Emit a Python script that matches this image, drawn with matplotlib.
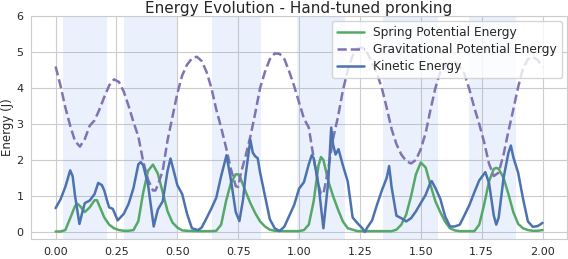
import numpy as np
import matplotlib
matplotlib.use('Agg')
import matplotlib.pyplot as plt
import seaborn as sns

# 数据：能量曲线（单位 J）
t_spring = [0.00, 0.02, 0.04, 0.06, 0.08, 0.09, 0.10, 0.12, 0.14, 0.16, 0.17, 0.18, 0.20, 0.22, 0.24, 0.26,
            0.28, 0.30, 0.32, 0.34, 0.36, 0.38, 0.40, 0.42, 0.44, 0.46, 0.48, 0.50, 0.52, 0.54, 0.58, 0.62,
            0.64, 0.66, 0.68, 0.70, 0.72, 0.74, 0.75, 0.76, 0.78, 0.80, 0.82, 0.84, 0.86, 0.88, 0.90, 0.94,
            0.98, 1.00, 1.02, 1.04, 1.06, 1.08, 1.09, 1.10, 1.12, 1.14, 1.16, 1.18, 1.20, 1.22, 1.24, 1.30,
            1.36, 1.38, 1.40, 1.42, 1.44, 1.46, 1.48, 1.50, 1.52, 1.54, 1.56, 1.58, 1.60, 1.62, 1.64, 1.66,
            1.70, 1.72, 1.74, 1.76, 1.78, 1.80, 1.81, 1.82, 1.84, 1.86, 1.88, 1.90, 1.92, 1.94, 1.96, 1.98, 2.00]
spring = [0.01, 0.01, 0.05, 0.38, 0.72, 0.78, 0.72, 0.55, 0.68, 0.88, 0.88, 0.72, 0.40, 0.20, 0.10, 0.05,
          0.03, 0.03, 0.05, 0.30, 1.10, 1.70, 1.87, 1.62, 1.10, 0.57, 0.26, 0.12, 0.04, 0.03, 0.02, 0.02,
          0.02, 0.03, 0.20, 0.85, 1.36, 1.60, 1.60, 1.48, 1.13, 0.80, 0.52, 0.29, 0.15, 0.06, 0.03, 0.02,
          0.02, 0.02, 0.05, 0.20, 0.85, 1.85, 2.08, 2.00, 1.41, 0.99, 0.62, 0.29, 0.10, 0.06, 0.02, 0.02,
          0.02, 0.02, 0.06, 0.20, 0.48, 0.99, 1.60, 1.93, 1.79, 1.30, 0.85, 0.55, 0.28, 0.10, 0.04, 0.02,
          0.02, 0.02, 0.20, 0.75, 1.40, 1.75, 1.78, 1.75, 1.50, 1.05, 0.55, 0.22, 0.10, 0.05, 0.03, 0.03, 0.05]

t_grav = [0.00, 0.02, 0.04, 0.06, 0.08, 0.10, 0.12, 0.14, 0.16, 0.18, 0.20, 0.22, 0.24, 0.26, 0.28, 0.30,
          0.32, 0.34, 0.36, 0.38, 0.40, 0.41, 0.42, 0.44, 0.46, 0.48, 0.50, 0.52, 0.54, 0.56, 0.58, 0.60,
          0.62, 0.64, 0.66, 0.68, 0.70, 0.72, 0.74, 0.75, 0.76, 0.78, 0.80, 0.82, 0.84, 0.86, 0.88, 0.90,
          0.92, 0.94, 0.96, 0.98, 1.00, 1.02, 1.04, 1.06, 1.08, 1.09, 1.10, 1.12, 1.14, 1.16, 1.18, 1.20,
          1.22, 1.24, 1.26, 1.28, 1.30, 1.32, 1.34, 1.36, 1.38, 1.40, 1.42, 1.44, 1.46, 1.48, 1.50, 1.52,
          1.54, 1.56, 1.58, 1.60, 1.62, 1.64, 1.66, 1.68, 1.70, 1.72, 1.74, 1.76, 1.78, 1.80, 1.82, 1.84,
          1.86, 1.88, 1.90, 1.92, 1.94, 1.96, 1.98, 2.00]
grav = [4.60, 4.07, 3.46, 2.95, 2.52, 2.37, 2.58, 2.95, 3.10, 3.40, 3.75, 4.07, 4.24, 4.17, 3.90, 3.50,
        3.05, 2.65, 1.95, 1.45, 1.15, 1.15, 1.30, 1.70, 2.55, 3.20, 3.85, 4.35, 4.65, 4.82, 4.87, 4.75,
        4.45, 4.00, 3.40, 2.90, 2.35, 1.75, 1.27, 1.25, 1.60, 2.10, 2.65, 3.30, 4.00, 4.45, 4.80, 4.96,
        4.95, 4.80, 4.45, 4.05, 3.60, 3.15, 2.90, 2.05, 1.30, 1.05, 1.05, 1.75, 2.60, 3.20, 3.93, 4.50,
        4.90, 5.10, 5.12, 4.98, 4.70, 4.40, 4.00, 3.45, 2.86, 2.44, 2.15, 1.97, 1.90, 2.00, 2.30, 2.75,
        3.40, 4.00, 4.45, 4.60, 4.70, 4.72, 4.60, 4.38, 3.95, 3.45, 3.00, 2.50, 1.90, 1.55, 1.65, 2.15,
        2.80, 3.40, 4.03, 4.55, 4.80, 4.87, 4.78, 4.58]

t_kin = [0.00, 0.02, 0.04, 0.06, 0.07, 0.08, 0.098, 0.11, 0.12, 0.14, 0.16, 0.175, 0.19, 0.20, 0.21, 0.22,
         0.235, 0.255, 0.28, 0.30, 0.32, 0.34, 0.35, 0.36, 0.38, 0.403, 0.42, 0.44, 0.46, 0.472, 0.485, 0.50,
         0.52, 0.54, 0.56, 0.585, 0.60, 0.62, 0.64, 0.66, 0.68, 0.702, 0.72, 0.74, 0.755, 0.77, 0.78, 0.80,
         0.81, 0.82, 0.83, 0.84, 0.86, 0.88, 0.90, 0.92, 0.94, 0.96, 0.98, 1.00, 1.02, 1.04, 1.052, 1.06,
         1.08, 1.10, 1.12, 1.132, 1.14, 1.15, 1.162, 1.18, 1.20, 1.22, 1.24, 1.26, 1.27, 1.28, 1.30, 1.32,
         1.34, 1.36, 1.37, 1.38, 1.40, 1.42, 1.44, 1.46, 1.48, 1.50, 1.52, 1.54, 1.545, 1.56, 1.58, 1.60,
         1.62, 1.64, 1.66, 1.68, 1.70, 1.72, 1.74, 1.765, 1.78, 1.80, 1.81, 1.82, 1.84, 1.86, 1.87, 1.88,
         1.90, 1.92, 1.94, 1.96, 1.98, 2.00]
kin = [0.66, 0.90, 1.25, 1.71, 1.55, 1.00, 0.22, 0.55, 0.80, 0.87, 1.05, 1.36, 1.30, 1.15, 0.90, 0.68,
       0.64, 0.32, 0.50, 0.78, 1.22, 1.88, 1.94, 1.85, 1.30, 0.15, 0.62, 0.85, 1.70, 2.04, 1.70, 1.30,
       1.05, 0.50, 0.10, 0.05, 0.12, 0.38, 0.65, 0.95, 1.55, 2.13, 1.45, 0.55, 0.30, 0.90, 1.55, 2.56,
       2.20, 2.10, 2.05, 1.65, 1.00, 0.35, 0.10, 0.02, 0.15, 0.45, 0.75, 1.20, 1.38, 1.88, 2.13, 2.05,
       1.30, 0.10, 1.40, 2.90, 2.42, 2.15, 2.30, 1.85, 1.40, 0.40, 0.24, 0.10, 0.00, 0.12, 0.32, 0.75,
       1.15, 1.50, 1.83, 1.25, 0.45, 0.38, 0.29, 0.38, 0.57, 0.80, 1.03, 1.38, 1.41, 1.22, 0.92, 0.43,
       0.15, 0.15, 0.20, 0.47, 0.75, 1.10, 1.43, 1.66, 1.37, 0.45, 0.20, 0.40, 1.50, 2.20, 2.40, 2.08,
       1.64, 0.92, 0.29, 0.14, 0.16, 0.25]

# 着地阶段（阴影区间）
stance_start = [0.03, 0.28, 0.643, 0.99, 1.343, 1.70]
stance_end = [0.212, 0.50, 0.843, 1.187, 1.572, 1.892]

sns.set_style('whitegrid')
plt.rcParams['font.family'] = ['DejaVu Sans']

fig, ax = plt.subplots(figsize=(5.68, 2.59), dpi=100)
fig.subplots_adjust(left=0.055, right=0.998, bottom=0.077, top=0.938)

for s, e in zip(stance_start, stance_end):
    ax.axvspan(s, e, color='#6495ED', alpha=0.13, lw=0)

ax.plot(t_spring, spring, color='#55A868', lw=1.8, label='Spring Potential Energy')
ax.plot(t_grav, grav, color='#8172B3', lw=1.8, ls='--', label='Gravitational Potential Energy')
ax.plot(t_kin, kin, color='#4C72B0', lw=1.8, label='Kinetic Energy')

ax.set_xlim(-0.1, 2.1)
ax.set_ylim(-0.2, 6)
ax.set_xticks(np.arange(0, 2.01, 0.25))
ax.set_xticklabels(['%.2f' % v for v in np.arange(0, 2.01, 0.25)])
ax.set_yticks(range(0, 7))
ax.tick_params(labelsize=8, pad=2)
ax.set_ylabel('Energy (J)', fontsize=8.5, labelpad=2)
ax.set_title('Energy Evolution - Hand-tuned pronking', fontsize=11, pad=2)
ax.legend(loc='upper right', fontsize=8.8, framealpha=0.8, borderaxespad=0.4,
          handlelength=2.2, labelspacing=0.35)

plt.savefig('out.png', dpi=100)
plt.close()
